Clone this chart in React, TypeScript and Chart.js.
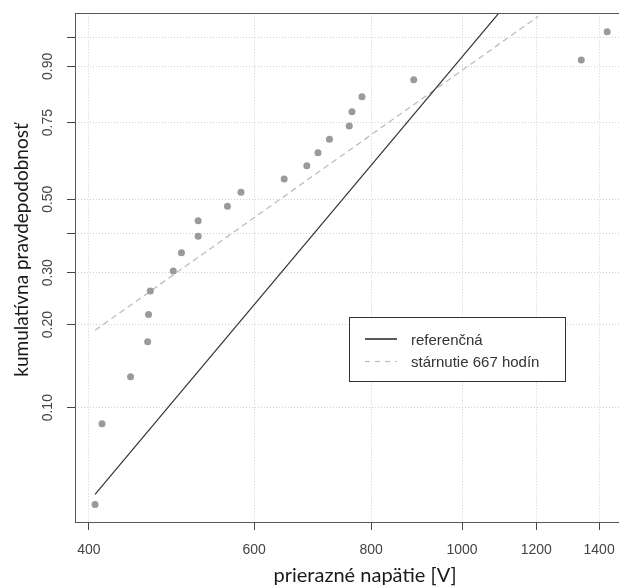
import React, { useEffect, useRef } from "react";
import { Chart, registerables } from "chart.js";

Chart.register(...registerables);

// ---- data ----
const voltages = [406, 413, 443, 462, 463, 465, 492, 502, 523, 523, 562, 581, 646, 683, 702, 722, 758, 763, 782, 888, 1340, 1428];
const cumProb = [0.043, 0.087, 0.13, 0.174, 0.217, 0.261, 0.304, 0.348, 0.391, 0.435, 0.478, 0.522, 0.565, 0.609, 0.652, 0.696, 0.739, 0.783, 0.826, 0.87, 0.913, 0.957];

const refLineV = [406, 1205];
const refLineP = [0.047, 0.9966];
const agedLineV = [406, 1205];
const agedLineP = [0.191, 0.973];

const xTicks = [400, 600, 800, 1000, 1200, 1400];
const yTickP = [0.1, 0.2, 0.3, 0.4, 0.5, 0.75, 0.9, 0.95];
const yTickLabels = ["0.10", "0.20", "0.30", "", "0.50", "0.75", "0.90", ""];
const xRange = [386.5, 1503];
const yRangeP = [0.0368, 0.9757];

const legendLabels = ["referenčná", "stárnutie 667 hodín"];
const xTitle = "prierazné napätie [V]";
const yTitle = "kumulatívna pravdepodobnosť";

// Weibull probability-paper transform
const weib = (p: number) => Math.log(-Math.log(1 - p));

const decorPlugin = {
  id: "decor",
  afterDraw(chart: any) {
    const { ctx, chartArea: a } = chart;
    ctx.save();
    // plot box
    ctx.strokeStyle = "#555";
    ctx.lineWidth = 1;
    ctx.setLineDash([]);
    ctx.strokeRect(Math.round(a.left) + 0.5, Math.round(a.top) + 0.5, Math.round(a.right - a.left), Math.round(a.bottom - a.top));

    // legend
    const lx = 349.5, ly = 317.5, lw = 216, lh = 64;
    ctx.fillStyle = "#fff";
    ctx.fillRect(lx, ly, lw, lh);
    ctx.strokeStyle = "#333";
    ctx.strokeRect(lx, ly, lw, lh);
    ctx.lineWidth = 1.5;
    ctx.strokeStyle = "#222";
    ctx.beginPath();
    ctx.moveTo(365, 339);
    ctx.lineTo(397, 339);
    ctx.stroke();
    ctx.strokeStyle = "#bdbdbd";
    ctx.lineWidth = 1.2;
    ctx.setLineDash([5, 5]);
    ctx.beginPath();
    ctx.moveTo(365, 361.5);
    ctx.lineTo(397, 361.5);
    ctx.stroke();
    ctx.setLineDash([]);
    ctx.fillStyle = "#333";
    ctx.font = '15px "Liberation Sans", Arial, sans-serif';
    ctx.textAlign = "left";
    ctx.textBaseline = "middle";
    ctx.fillText(legendLabels[0], 411, 341);
    ctx.fillText(legendLabels[1], 411, 363);

    // axis titles
    ctx.fillStyle = "#1a1a1a";
    ctx.textAlign = "center";
    ctx.textBaseline = "alphabetic";
    ctx.font = '20px Lato, "Open Sans", sans-serif';
    ctx.fillText(xTitle, 365, 582);
    ctx.font = '19px Lato, "Open Sans", sans-serif';
    ctx.translate(28, 250);
    ctx.rotate(-Math.PI / 2);
    ctx.fillText(yTitle, 0, 0);
    ctx.restore();
  },
};

export default function App() {
  const canvasRef = useRef<HTMLCanvasElement | null>(null);

  useEffect(() => {
    const canvas = canvasRef.current;
    if (!canvas) return;
    const pts = voltages.map((v, i) => ({ x: v, y: weib(cumProb[i]) }));
    const refPts = refLineV.map((v, i) => ({ x: v, y: weib(refLineP[i]) }));
    const agedPts = agedLineV.map((v, i) => ({ x: v, y: weib(agedLineP[i]) }));
    const tickFont = { family: '"Liberation Sans", Arial, sans-serif', size: 14 };

    const chart = new Chart(canvas, {
      type: "scatter",
      data: {
        datasets: [
          {
            label: "data",
            data: pts,
            showLine: false,
            pointRadius: 3.5,
            pointBackgroundColor: "#9a9a9a",
            pointBorderWidth: 0,
            borderColor: "#9a9a9a",
          },
          {
            label: legendLabels[0],
            data: refPts,
            showLine: true,
            pointRadius: 0,
            borderColor: "#333",
            borderWidth: 1.2,
          },
          {
            label: legendLabels[1],
            data: agedPts,
            showLine: true,
            pointRadius: 0,
            borderColor: "#bdbdbd",
            borderWidth: 1.3,
            borderDash: [6, 4],
          },
        ],
      },
      options: {
        animation: false,
        responsive: false,
        devicePixelRatio: 1,
        events: [],
        layout: { padding: { left: 0, top: 12, right: 12, bottom: 0 } },
        plugins: { legend: { display: false }, tooltip: { enabled: false } },
        scales: {
          x: {
            type: "logarithmic",
            min: xRange[0],
            max: xRange[1],
            bounds: "data",
            afterBuildTicks: (s: any) => {
              s.ticks = xTicks.map((v) => ({ value: v }));
            },
            afterFit: (s: any) => {
              s.height = 64;
            },
            ticks: {
              autoSkip: false,
              maxRotation: 0,
              minRotation: 0,
              padding: 12,
              color: "#444",
              font: tickFont,
              callback: (v: any) => String(v),
            },
            grid: {
              color: "#cfcfcf",
              lineWidth: 1,
              tickColor: "#444",
              tickLength: 8,
              tickWidth: 1,
            },
            border: { display: false, dash: [1, 2] },
          },
          y: {
            type: "linear",
            min: weib(yRangeP[0]),
            max: weib(yRangeP[1]),
            bounds: "data",
            afterBuildTicks: (s: any) => {
              s.ticks = yTickP.map((p) => ({ value: weib(p) }));
            },
            afterFit: (s: any) => {
              s.width = 75;
            },
            ticks: {
              autoSkip: false,
              minRotation: 90,
              maxRotation: 90,
              crossAlign: "center",
              padding: 5,
              color: "#444",
              font: tickFont,
              callback: (_v: any, i: number) => yTickLabels[i],
            },
            grid: {
              color: "#cfcfcf",
              lineWidth: 1,
              tickColor: "#444",
              tickLength: 8,
              tickWidth: 1,
            },
            border: { display: false, dash: [1, 2] },
          },
        },
      },
      plugins: [decorPlugin],
    } as any);
    return () => chart.destroy();
  }, []);

  return (
    <div style={{ position: "fixed", left: 0, top: 0, width: 619, height: 586, overflow: "hidden", background: "#fff" }}>
      <canvas ref={canvasRef} width={640} height={586} style={{ display: "block", width: 640, height: 586 }} />
    </div>
  );
}
